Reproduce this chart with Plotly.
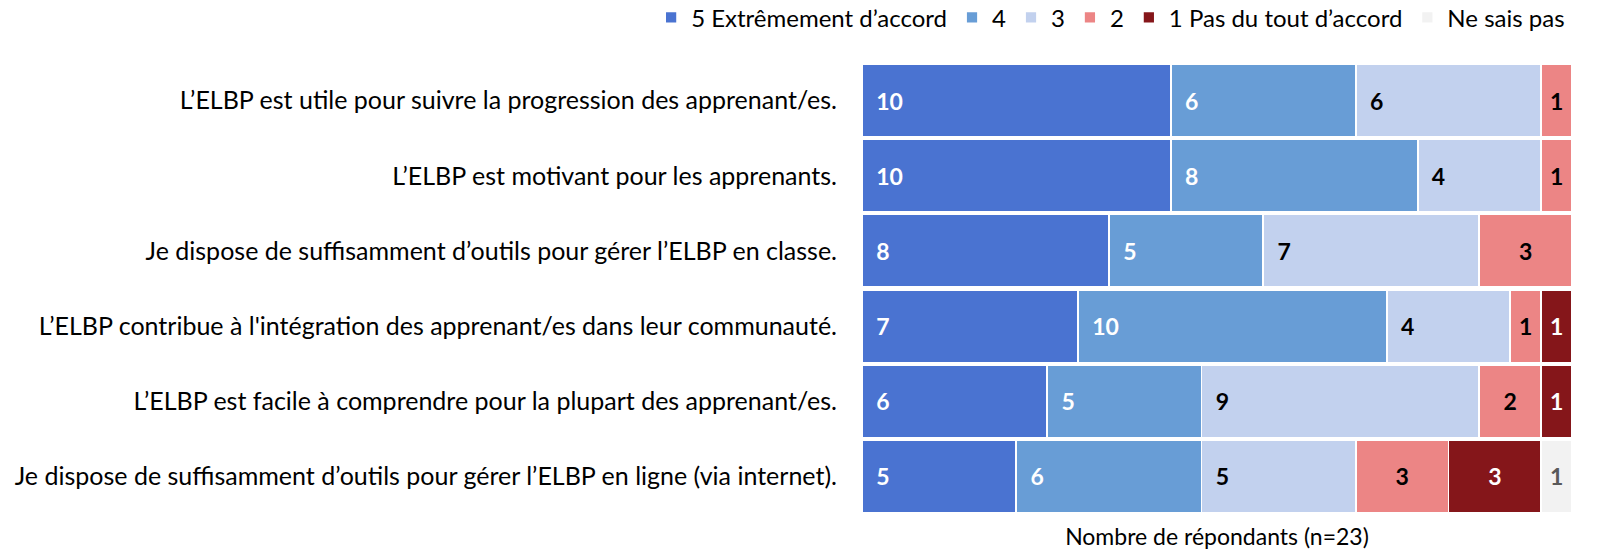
import plotly.graph_objects as go

categories = [
    "L’ELBP est utile pour suivre la progression des apprenant/es.",
    "L’ELBP est motivant pour les apprenants.",
    "Je dispose de suffisamment d’outils pour gérer l’ELBP en classe.",
    "L’ELBP contribue à l'intégration des apprenant/es dans leur communauté.",
    "L’ELBP est facile à comprendre pour la plupart des apprenant/es.",
    "Je dispose de suffisamment d’outils pour gérer l’ELBP en ligne (via internet).",
]
series_names = ["5 Extrêmement d’accord", "4", "3", "2", "1 Pas du tout d’accord", "Ne sais pas"]
v5 = [10, 10, 8, 7, 6, 5]
v4 = [6, 8, 5, 10, 5, 6]
v3 = [6, 4, 7, 4, 9, 5]
v2 = [1, 1, 3, 1, 2, 3]
v1 = [0, 0, 0, 1, 1, 3]
vns = [0, 0, 0, 0, 0, 1]
values = [v5, v4, v3, v2, v1, vns]
colors = ["#4A73D1", "#689DD6", "#C2D1EE", "#EC8585", "#85161A", "#F2F2F2"]
text_colors = ["white", "white", "black", "black", "white", "#595959"]
anchors = ["start", "start", "start", "middle", "middle", "middle"]

FONT = "Lato"
PAD = "\u00a0\u00a0"
fig = go.Figure()
for name, vals, col, tc, anc in zip(series_names, values, colors, text_colors, anchors):
    fig.add_trace(go.Bar(
        y=categories, x=vals, name=name, orientation="h",
        marker=dict(color=col, line=dict(color="white", width=1.8)),
        text=[("" if v == 0 else (PAD + str(v) if anc == "start" else str(v))) for v in vals],
        textposition="inside", insidetextanchor=anc,
        textfont=dict(family=FONT, size=23, color=tc, weight="bold"),
        constraintext="none",
    ))

fig.update_layout(
    barmode="stack", bargap=0.03,
    width=1603, height=552,
    margin=dict(l=862, r=31, t=63, b=38, autoexpand=False),
    plot_bgcolor="white", paper_bgcolor="white",
    font=dict(family=FONT, size=24, color="black"),
    showlegend=True,
    legend=dict(orientation="h", xref="paper", yref="paper",
                x=-0.297, xanchor="left", y=1.15, yanchor="top",
                font=dict(size=24), traceorder="normal"),
    uniformtext=dict(mode=False),
)
fig.update_xaxes(range=[0, 23], showticklabels=False, showgrid=False, zeroline=False,
                 title=dict(text="Nombre de répondants (n=23)", standoff=14, font=dict(size=23)))
fig.update_yaxes(autorange="reversed", showgrid=False, ticks="", ticklabelstandoff=24,
                 tickfont=dict(size=25))
fig.write_html("out.html", config={"displayModeBar": False},
               post_script="document.body.style.margin='0';")
